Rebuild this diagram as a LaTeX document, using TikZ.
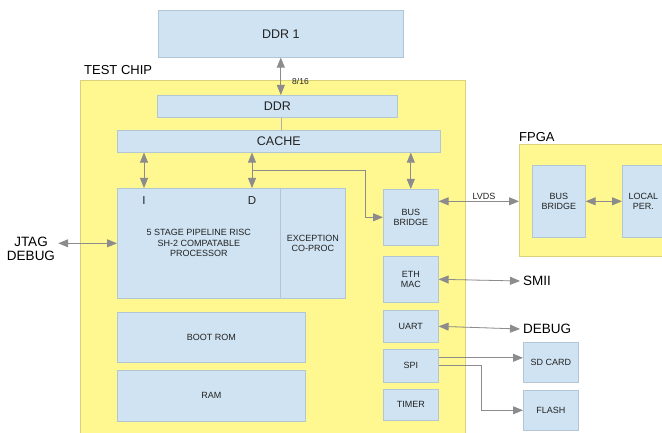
\documentclass[tikz,border=0pt]{standalone}
\usepackage{fontspec}
\setmainfont{Liberation Sans}
\usetikzlibrary{calc,arrows.meta,positioning}
\definecolor{chipYellow}{HTML}{FFF78F}
\definecolor{blkBlue}{HTML}{CFE3F2}
\definecolor{blkEdge}{HTML}{B2C6D4}
\definecolor{arrGray}{HTML}{8C8C8C}
\definecolor{txtGray}{HTML}{222222}

\begin{document}
\begin{tikzpicture}[x=1pt, y=-1pt, font=\fontsize{9}{10.5}\selectfont, text=txtGray,
  blk/.style={rectangle, draw=blkEdge, line width=0.6pt, fill=blkBlue,
    anchor=north west, align=center, inner sep=0pt},
  chip/.style={rectangle, draw=chipYellow!85!black, line width=0.4pt, fill=chipYellow,
    anchor=north west, inner sep=0pt},
  bigtxt/.style={font=\fontsize{12.5}{14}\selectfont},
  ttl/.style={font=\fontsize{13}{14}\selectfont, text=black, anchor=base west, inner sep=0pt},
  sig/.style={font=\fontsize{13.5}{13.5}\selectfont, text=black, align=center, inner sep=3pt},
  arr/.style={{Triangle[length=10pt,width=8pt]}-{Triangle[length=10pt,width=8pt]},
    line width=0.8pt, draw=arrGray, fill=arrGray},
  onearr/.style={-{Triangle[length=10pt,width=8pt]}, line width=0.8pt, draw=arrGray},
  wire/.style={line width=0.5pt, draw=arrGray!70}]
  \useasboundingbox (0,0) rectangle (662,433);
  \fill[white] (0,0) rectangle (662,433);
  \clip (0,0) rectangle (662,433);

  % outside memory
  \node[blk, bigtxt, minimum width=245pt, minimum height=47pt] (ddrone) at (158,10) {DDR 1};

  % test chip
  \node[chip, minimum width=385pt, minimum height=360pt] (chip) at (80,80) {};
  \node[ttl] (chiplbl) at (84,75) {TEST CHIP};
  \node[blk, bigtxt, minimum width=240pt, minimum height=22pt] (ddr) at (157,95) {DDR};
  \node[blk, bigtxt, minimum width=323pt, minimum height=22pt] (cache) at (117,130) {CACHE};
  \node[blk, minimum width=163pt, minimum height=110pt] (proc) at (117,188)
    {5 STAGE PIPELINE RISC\\SH-2 COMPATABLE\\PROCESSOR};
  \node[blk, minimum width=65pt, minimum height=110pt] (exc) at (280,188)
    {EXCEPTION\\CO-PROC};
  \node[font=\fontsize{11.5}{12}\selectfont, inner sep=0pt] (ilbl) at (144,201) {I};
  \node[font=\fontsize{11.5}{12}\selectfont, inner sep=0pt] (dlbl) at (252,201) {D};
  \node[blk, minimum width=188pt, minimum height=50pt] (bootrom) at (117,312) {BOOT ROM};
  \node[blk, minimum width=188pt, minimum height=51pt] (ram) at (117,370) {RAM};
  \node[blk, minimum width=55pt, minimum height=56pt] (bbridge) at (383,189) {BUS\\BRIDGE};
  \node[blk, minimum width=55pt, minimum height=46pt] (eth) at (383,256) {ETH\\MAC};
  \node[blk, minimum width=55pt, minimum height=32pt] (uart) at (383,310) {UART};
  \node[blk, minimum width=55pt, minimum height=33pt] (spi) at (383,349) {SPI};
  \node[blk, minimum width=55pt, minimum height=31pt] (timer) at (383,389) {TIMER};

  % fpga
  \node[chip, minimum width=155pt, minimum height=112pt] (fpga) at (519,144) {};
  \node[ttl] (fpgalbl) at (519,142) {FPGA};
  \node[blk, minimum width=53pt, minimum height=72pt] (fbridge) at (532,165) {BUS\\BRIDGE};
  \node[blk, minimum width=42pt, minimum height=72pt] (localper) at (622,165) {LOCAL\\PER.};

  % external parts
  \node[blk, minimum width=55pt, minimum height=40pt] (sdcard) at (523,342) {SD CARD};
  \node[blk, minimum width=55pt, minimum height=40pt] (flash) at (523,390) {FLASH};
  \node[sig] (jtag) at (31,249) {JTAG\\DEBUG};
  \node[sig, anchor=west] (smii) at (520,281) {SMII};
  \node[sig, anchor=west] (debug) at (520,329) {DEBUG};
  \node[font=\fontsize{9}{10}\selectfont] (lvds) at (484,196) {LVDS};
  \node[font=\fontsize{8.5}{10}\selectfont, anchor=west, inner sep=1pt] (width) at (291,81) {8/16};

  % connections
  \draw[arr] (ddrone.south) -- (ddrone.south |- ddr.north);
  \draw[wire] (ddr.south -| ddrone.south) -- (cache.north -| ddrone.south);
  \draw[arr] (cache.south -| ilbl) -- (proc.north -| ilbl);
  \draw[arr] (cache.south -| dlbl) -- (proc.north -| dlbl);
  \coordinate (dtap) at ($(cache.south -| dlbl)!0.5!(proc.north -| dlbl)$);
  \draw[onearr] (dtap) -| ([xshift=-18pt]bbridge.west) -- (bbridge.west);
  \draw[arr] (cache.south -| bbridge) -- (bbridge.north);
  \draw[arr] (jtag.east |- proc.west) -- (proc.west);
  \draw[arr] (bbridge.east |- fbridge) -- (fpga.west |- fbridge);
  \draw[arr] (fbridge.east) -- (localper.west);
  \draw[arr] (eth.east) -- (smii.west);
  \draw[arr] (uart.east) -- (debug.west);
  \draw[onearr] ([yshift=8pt]spi.east) -- ([yshift=8pt]spi.east -| sdcard.west);
  \draw[onearr] (spi.east) -| ([xshift=-42pt]flash.west) -- (flash.west);
\end{tikzpicture}
\end{document}
